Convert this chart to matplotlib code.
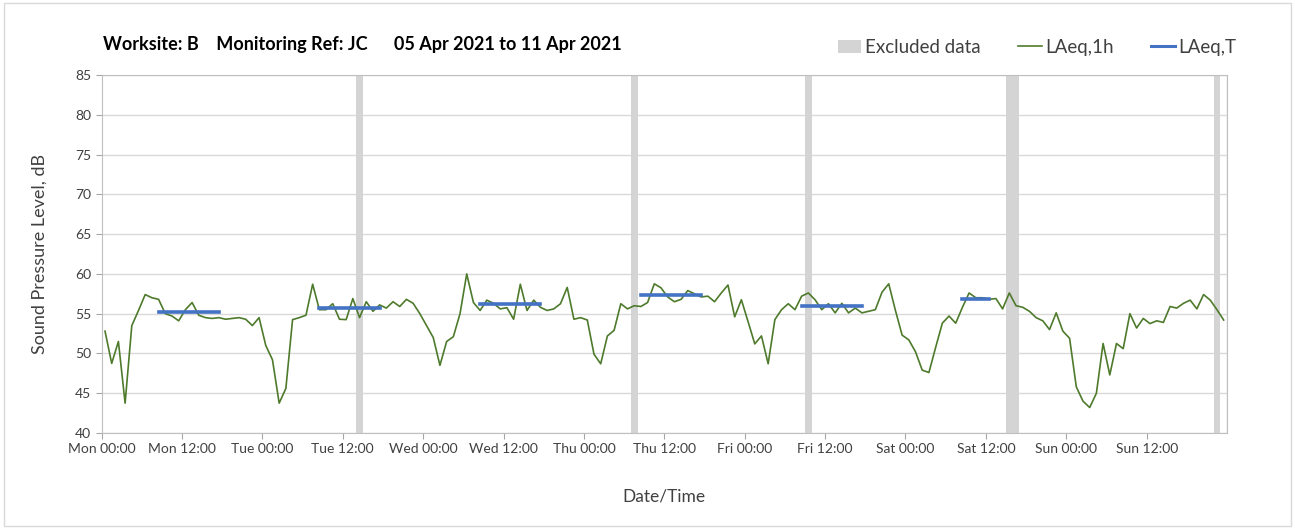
import numpy as np
import matplotlib.pyplot as plt
from matplotlib.patches import Patch, Rectangle
from matplotlib.lines import Line2D

plt.rcParams['font.family'] = ['Lato', 'DejaVu Sans']

# hourly LAeq values, Mon 00:00 -> Sun 23:00 (one value per hour)
laeq_1h = [
    # Mon
    52.8, 48.75, 51.5, 43.75, 53.5, 55.4, 57.4, 57.0, 56.8, 55.0, 54.7, 54.1,
    55.5, 56.4, 54.8, 54.5, 54.4, 54.5, 54.3, 54.4, 54.5, 54.3, 53.5, 54.5,
    # Tue
    51.0, 49.2, 43.75, 45.6, 54.25, 54.5, 54.8, 58.7, 55.5, 55.5, 56.25, 54.3,
    54.25, 56.9, 54.5, 56.5, 55.3, 56.1, 55.7, 56.5, 55.9, 56.8, 56.3, 55.0,
    # Wed
    53.5, 52.0, 48.5, 51.5, 52.1, 55.0, 60.0, 56.4, 55.4, 56.7, 56.3, 55.6,
    55.75, 54.3, 58.7, 55.4, 56.7, 55.8, 55.4, 55.6, 56.25, 58.3, 54.3, 54.5,
    # Thu
    54.2, 49.9, 48.7, 52.2, 52.9, 56.25, 55.6, 56.0, 55.9, 56.4, 58.75, 58.25,
    57.1, 56.5, 56.8, 57.9, 57.5, 57.1, 57.2, 56.5, 57.6, 58.6, 54.6, 56.75,
    # Fri
    54.0, 51.2, 52.2, 48.7, 54.25, 55.5, 56.25, 55.5, 57.2, 57.6, 56.75, 55.5,
    56.25, 55.1, 56.3, 55.1, 55.7, 55.1, 55.3, 55.5, 57.7, 58.75, 55.4, 52.3,
    # Sat
    51.7, 50.2, 47.9, 47.6, 50.75, 53.8, 54.7, 53.8, 55.8, 57.6, 57.0, 57.0,
    56.8, 56.9, 55.6, 57.6, 56.0, 55.8, 55.3, 54.5, 54.1, 53.0, 55.1, 52.8,
    # Sun
    51.9, 45.8, 44.0, 43.2, 45.0, 51.25, 47.3, 51.25, 50.6, 55.0, 53.2, 54.4,
    53.75, 54.1, 53.9, 55.9, 55.7, 56.3, 56.7, 55.6, 57.4, 56.7, 55.5, 54.2,
]

# LAeq,T over working periods: (first hour, last hour, level)
laeq_t_periods = [
    (8, 17, 55.2),
    (32, 41, 55.7),
    (56, 65, 56.25),
    (80, 89, 57.4),
    (104, 113, 56.0),
    (128, 132, 56.9),
]

# excluded data periods, hours from Mon 00:00
excluded = [(38, 39), (79, 80), (105, 106), (135, 137), (166, 167)]

days = ['Mon', 'Tue', 'Wed', 'Thu', 'Fri', 'Sat', 'Sun']
tick_labels = [f'{d} {t}' for d in days for t in ('00:00', '12:00')]

green = '#4e7a2c'
blue = '#4472c4'
band = '#d4d4d4'
txt = '#404040'

fig = plt.figure(figsize=(12.95, 5.29), dpi=100)
fig.patches.append(Rectangle((0.003, 0.006), 0.994, 0.988, transform=fig.transFigure,
                             fill=False, edgecolor='#d9d9d9', linewidth=1))
ax = fig.add_axes([0.0785, 0.1815, 0.869, 0.6767])

hours = np.arange(len(laeq_1h)) + 0.5

for s, e in excluded:
    ax.axvspan(s, e, color=band, lw=0, zorder=1)

ax.plot(hours, laeq_1h, color=green, lw=1.2, zorder=3)

for s, e, v in laeq_t_periods:
    ax.plot([s + 0.5, e + 0.5], [v, v], color=blue, lw=2.6, zorder=4)

ax.set_xlim(0, 168)
ax.set_ylim(40, 85)
ax.set_yticks(range(40, 86, 5))
ax.set_xticks(range(0, 168, 12))
ax.set_xticklabels(tick_labels)
ax.set_xticks(range(0, 169, 24), minor=True)

ax.grid(axis='y', color='#d9d9d9', lw=1)
ax.grid(axis='x', which='minor', color='#d9d9d9', lw=1)
ax.set_axisbelow(True)
for sp in ax.spines.values():
    sp.set_color('#bfbfbf')
ax.tick_params(axis='both', which='major', colors='#a6a6a6', labelcolor=txt,
               labelsize=10, length=4)
ax.tick_params(axis='x', which='minor', length=0)

ax.set_ylabel('Sound Pressure Level, dB', fontsize=13, color=txt, labelpad=20)
ax.set_xlabel('Date/Time', fontsize=12.5, color=txt, labelpad=24)

fig.text(0.0795, 0.915, 'Worksite: B    Monitoring Ref: JC      05 Apr 2021 to 11 Apr 2021',
         fontsize=13, fontweight='bold', color='black', va='center')

handles = [Patch(color=band, lw=0),
           Line2D([], [], color=green, lw=1.2),
           Line2D([], [], color=blue, lw=2.2)]
fig.legend(handles, ['Excluded data', 'LAeq,1h', 'LAeq,T'], loc='center right',
           bbox_to_anchor=(0.968, 0.91), ncol=3, frameon=False, fontsize=13.5,
           handlelength=1.25, handleheight=0.75, handletextpad=0.2, columnspacing=2.0,
           labelcolor=txt)

fig.savefig('out.png', dpi=100)
